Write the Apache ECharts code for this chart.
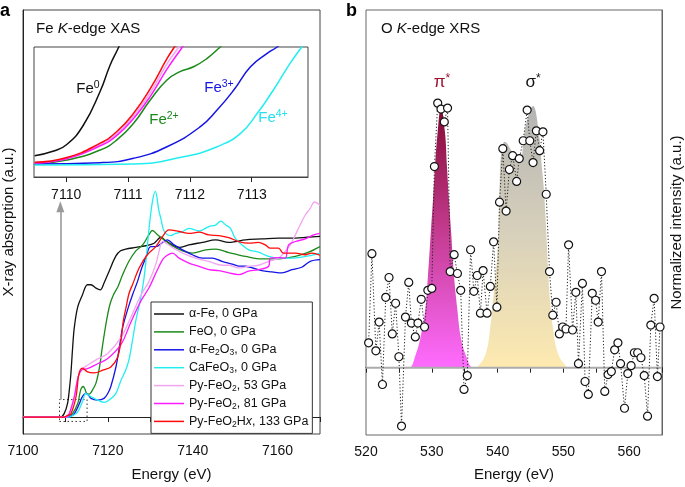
<!DOCTYPE html>
<html><head><meta charset="utf-8">
<script src="https://cdn.jsdelivr.net/npm/echarts@6/dist/echarts.min.js"></script>
<style>html,body{margin:0;padding:0;background:#fff}#c{width:685px;height:487px}</style>
</head><body><div id="c"></div>
<script>
const FONT = '"Liberation Sans", Arial, Helvetica, sans-serif';

// ---------- Panel a: Fe K-edge XAS (energy eV, normalized absorption) ----------
const legendNames = ['α-Fe, 0 GPa','FeO, 0 GPa','α-Fe2O3, 0 GPa','CaFeO3, 0 GPa','Py-FeO2, 53 GPa','Py-FeO2, 81 GPa','Py-FeO2Hx, 133 GPa'];
const legendRich = ['α-Fe, 0 GPa','FeO, 0 GPa','α-Fe{s|2}O{s|3}, 0 GPa','CaFeO{s|3}, 0 GPa','Py-FeO{s|2}, 53 GPa','Py-FeO{s|2}, 81 GPa','Py-FeO{s|2}H{i|x}, 133 GPa'];
const lineColors = ['#111111','#1b8a1b','#1414e6','#22eef0','#f2a6f2','#ff1aff','#ff0a0a'];

const xasAlphaFe = [[7100,0],[7108.8,0],[7109.7,0.02],[7110.5,0.08],[7111.0,0.18],[7111.3,0.26],[7111.7,0.41],[7112.1,0.53],[7112.9,0.65],[7114.0,0.72],[7115.2,0.78],[7116.0,0.78],[7117.2,0.76],[7118.2,0.75],[7119.1,0.79],[7120.3,0.86],[7121.9,0.95],[7123.0,0.98],[7124.2,0.99],[7126.6,1.0],[7128.9,1.01],[7130.9,1.025],[7132.5,1.06],[7133.6,1.04],[7135.2,1.015],[7136.8,1.0],[7139.1,1.015],[7142.3,1.03],[7145.4,1.045],[7148.5,1.03],[7150.1,1.035],[7152.4,1.045],[7156.3,1.05],[7160.2,1.055],[7164.2,1.055],[7167.0,1.06],[7170,1.065]];
const xasFeO = [[7100,0],[7110.1,0],[7111.0,0.01],[7111.7,0.022],[7112.9,0.08],[7113.6,0.16],[7114.2,0.18],[7114.6,0.165],[7115.0,0.14],[7115.6,0.135],[7116.4,0.16],[7117.2,0.2],[7118.0,0.29],[7118.8,0.43],[7119.7,0.57],[7120.5,0.665],[7121.3,0.72],[7122.4,0.77],[7123.5,0.84],[7125.0,0.92],[7126.6,0.98],[7128.2,1.015],[7129.7,1.075],[7130.5,1.1],[7131.7,1.075],[7133.2,1.045],[7134.8,1.015],[7137.6,0.98],[7139.9,0.967],[7143.1,0.986],[7145.4,0.99],[7148.5,0.97],[7150.1,0.96],[7152.4,0.947],[7156.3,0.932],[7160.2,0.933],[7164.2,0.947],[7167.3,0.972],[7170,1.005]];
const xasFe2O3 = [[7100,0],[7110.5,0],[7111.3,0.005],[7112.1,0.02],[7113.2,0.074],[7114.0,0.12],[7114.8,0.14],[7115.4,0.13],[7116.0,0.11],[7117.6,0.1],[7119.1,0.11],[7120.0,0.14],[7120.7,0.18],[7121.9,0.295],[7122.7,0.41],[7123.5,0.53],[7124.8,0.645],[7125.8,0.72],[7127.0,0.8],[7128.0,0.88],[7128.9,0.937],[7130.1,1.005],[7131.3,1.005],[7132.9,1.03],[7134.0,1.045],[7135.6,1.015],[7137.6,0.986],[7139.9,0.957],[7142.3,0.937],[7144.6,0.937],[7146.9,0.918],[7149.3,0.902],[7150.8,0.89],[7152.4,0.889],[7156.3,0.863],[7158.7,0.856],[7161.0,0.85],[7163.4,0.869],[7165.7,0.883],[7167.7,0.918],[7170,0.928]];
const xasCaFeO3 = [[7100,0],[7110.9,0],[7111.8,0.01],[7112.9,0.03],[7114.0,0.09],[7114.8,0.14],[7115.4,0.13],[7116.0,0.12],[7117.6,0.1],[7119.1,0.086],[7120.3,0.1],[7121.9,0.14],[7123.1,0.217],[7124.2,0.276],[7125.0,0.34],[7125.8,0.45],[7126.6,0.57],[7127.4,0.66],[7128.3,0.78],[7128.9,0.9],[7129.7,1.11],[7130.5,1.27],[7131.2,1.33],[7132.0,1.22],[7132.5,1.17],[7133.3,1.094],[7134.8,1.07],[7136.0,1.083],[7137.6,1.094],[7139.1,1.113],[7141.5,1.097],[7143.8,1.123],[7145.4,1.132],[7146.6,1.155],[7147.8,1.132],[7148.9,1.113],[7150.0,1.055],[7151.6,1.015],[7153.2,0.986],[7155.5,0.972],[7157.9,0.947],[7160.2,0.937],[7162.6,0.937],[7164.9,0.94],[7167.3,0.95],[7170,0.967]];
const xasFeO2at53 = [[7100,0],[7110.2,0],[7110.9,0.02],[7112.1,0.12],[7113.0,0.237],[7114.0,0.285],[7115.2,0.305],[7117.6,0.343],[7119.9,0.373],[7123.1,0.47],[7125.4,0.587],[7127.8,0.72],[7129.7,0.8],[7131.3,0.9],[7132.1,0.98],[7132.9,1.035],[7135.2,1.0],[7137.6,0.967],[7140.7,0.937],[7143.8,0.918],[7147.0,0.895],[7148.5,0.895],[7150.8,0.879],[7153.2,0.889],[7155.5,0.895],[7157.9,0.918],[7160.2,0.937],[7161.8,0.976],[7163.0,1.015],[7164.2,1.074],[7165.3,1.132],[7166.5,1.19],[7167.7,1.23],[7168.7,1.268],[7170,1.249]];
const xasFeO2at81 = [[7100,0],[7110.2,0],[7110.9,0.02],[7112.1,0.12],[7113.0,0.237],[7114.0,0.28],[7115.2,0.285],[7117.6,0.314],[7119.9,0.343],[7123.1,0.428],[7125.4,0.558],[7127.8,0.685],[7129.7,0.762],[7131.7,0.87],[7132.9,0.928],[7133.6,0.947],[7135.2,0.967],[7136.8,0.937],[7139.1,0.908],[7141.5,0.889],[7143.8,0.869],[7146.2,0.863],[7148.5,0.85],[7150.8,0.84],[7153.2,0.86],[7155.5,0.869],[7157.9,0.889],[7158.3,0.937],[7160.2,0.94],[7161.8,0.937],[7162.6,1.015],[7164.2,1.035],[7166.5,1.05],[7168.5,1.074],[7170,1.083]];
const xasFeO2Hx133 = [[7100,0],[7109.7,0],[7110.5,0.01],[7111.3,0.02],[7112.5,0.12],[7113.2,0.256],[7114.0,0.289],[7115.2,0.266],[7116.8,0.26],[7118.8,0.276],[7120.7,0.295],[7122.3,0.353],[7123.1,0.45],[7123.6,0.56],[7124.4,0.66],[7125.0,0.73],[7125.8,0.78],[7127.4,0.88],[7129.3,0.957],[7131.3,1.005],[7132.9,1.065],[7134.4,1.103],[7136.8,1.094],[7139.1,1.083],[7141.5,1.09],[7143.8,1.074],[7146.2,1.07],[7148.5,1.058],[7150.8,1.035],[7153.2,1.025],[7155.5,1.03],[7157.1,1.015],[7158.3,0.996],[7160.2,0.996],[7161.4,0.967],[7164.2,0.967],[7166.5,0.957],[7168.1,0.967],[7170,0.954]];

// inset (pre-edge zoom)
const insetAlphaFe = [[7109.49,0.164],[7109.8,0.2],[7110.01,0.25],[7110.28,0.4],[7110.55,0.66],[7110.71,0.86],[7110.85,1.0],[7110.95,1.12]];
const insetFeO = [[7109.49,0.1],[7110.01,0.13],[7110.55,0.208],[7110.82,0.285],[7111.09,0.413],[7111.36,0.592],[7111.63,0.746],[7111.84,0.81],[7112.06,0.848],[7112.28,0.913],[7112.49,1.0],[7112.6,1.05]];
const insetFe2O3 = [[7109.49,0.1],[7110.55,0.11],[7111.09,0.144],[7111.63,0.233],[7112.17,0.387],[7112.44,0.515],[7112.71,0.669],[7112.98,0.848],[7113.25,0.951],[7113.41,1.0],[7113.5,1.04]];
const insetCaFeO3 = [[7109.49,0.092],[7111.09,0.1],[7111.9,0.156],[7112.44,0.233],[7112.82,0.336],[7113.09,0.49],[7113.35,0.669],[7113.62,0.874],[7113.81,1.0],[7113.91,1.06]];
const insetFeO2at53 = [[7109.49,0.11],[7110.01,0.145],[7110.55,0.25],[7110.82,0.335],[7111.09,0.47],[7111.36,0.65],[7111.63,0.87],[7111.82,1.0],[7111.9,1.06]];
const insetFeO2at81 = [[7109.49,0.108],[7110.01,0.14],[7110.55,0.24],[7110.82,0.32],[7111.09,0.45],[7111.36,0.62],[7111.63,0.83],[7111.88,1.0],[7111.95,1.05]];
const insetFeO2Hx133 = [[7109.49,0.113],[7110.01,0.15],[7110.55,0.26],[7110.82,0.35],[7111.09,0.49],[7111.36,0.68],[7111.63,0.91],[7111.75,1.0],[7111.85,1.08]];
const insetTicks = [7110, 7111, 7112, 7113];

// ---------- Panel b: O K-edge XRS ----------
const xrsEnergy = [520.4,520.9,521.5,522.0,522.5,523.0,523.5,524.0,524.5,525.0,525.4,526.0,526.5,526.9,527.5,527.9,528.4,528.9,529.4,530.0,530.4,530.9,531.4,531.9,532.4,532.8,533.4,533.9,534.4,534.9,535.4,535.9,536.4,536.9,537.4,537.8,538.4,538.9,539.4,539.9,540.3,540.8,541.3,541.8,542.3,542.9,543.3,543.9,544.5,544.9,545.4,545.9,546.4,546.9,547.4,547.9,548.4,548.9,549.4,549.9,550.4,550.8,551.4,551.9,552.3,552.9,553.3,553.8,554.4,554.9,555.3,555.8,556.3,556.8,557.3,557.8,558.3,558.7,559.3,559.8,560.3,560.8,561.3,561.8,562.3,562.8,563.3,563.8,564.3,564.7];
const xrsIntensity = [0.25,1.15,0.17,0.46,-0.17,0.71,0.91,0.34,0.65,0.11,-0.59,0.51,0.86,0.45,0.31,0.45,0.69,0.41,0.78,0.80,2.03,2.67,2.61,2.48,2.62,0.97,1.14,0.95,0.78,-0.22,-0.08,1.19,0.77,0.93,0.55,0.98,0.55,0.82,1.27,0.61,1.67,2.21,1.58,2.00,2.14,1.88,2.11,2.29,2.60,2.29,2.07,2.39,2.19,2.38,1.75,0.97,0.53,0.66,0.34,0.41,0.39,1.24,0.38,0.76,0.04,0.85,-0.14,-0.27,0.75,0.68,0.46,0.97,-0.24,-0.07,-0.04,0.18,0.25,0.04,-0.41,-0.06,0.02,0.15,0.15,0.10,-0.08,-0.49,0.43,0.70,-0.09,0.41];
const piStarProfile = [[526.0,0],[526.6,0.0],[527.6,0.14],[528.3,0.31],[529.0,0.58],[529.4,0.91],[529.9,1.41],[530.2,1.71],[530.5,2.04],[530.9,2.38],[531.4,2.63],[532.0,2.38],[532.3,2.04],[532.6,1.71],[532.9,1.41],[533.4,0.91],[533.9,0.58],[534.4,0.31],[535.1,0.14],[536.2,0.0],[536.6,0]];
const sigmaStarProfile = [[536.5,0],[537.0,0.01],[538.2,0.14],[538.9,0.41],[539.4,0.74],[539.9,1.08],[540.1,1.3],[540.3,1.8],[540.6,2.2],[541.1,2.28],[542.2,2.18],[543.3,2.06],[544.2,2.41],[545.0,2.61],[545.4,2.64],[546.2,2.41],[546.8,1.98],[547.1,1.75],[547.5,1.24],[547.7,0.97],[547.9,0.74],[548.4,0.41],[549.2,0.14],[550.5,0.01],[551.0,0]];

const mainData = [xasAlphaFe, xasFeO, xasFe2O3, xasCaFeO3, xasFeO2at53, xasFeO2at81, xasFeO2Hx133];
const insetData = [insetAlphaFe, insetFeO, insetFe2O3, insetCaFeO3, insetFeO2at53, insetFeO2at81, insetFeO2Hx133];

const chart = echarts.init(document.getElementById('c'), null, {renderer:'canvas', width:685, height:487});

const series = [];
mainData.forEach((d, i) => {
  series.push({type:'line', name: legendNames[i], data: d, xAxisIndex:0, yAxisIndex:0,
    symbol:'none', smooth:0.35, lineStyle:{color: lineColors[i], width:1.3}, itemStyle:{color: lineColors[i]}, z: 2 + i});
});
insetData.forEach((d, i) => {
  series.push({type:'line', name: 'inset ' + legendNames[i], data: d, xAxisIndex:1, yAxisIndex:1,
    symbol:'none', smooth:0.5, lineStyle:{color: lineColors[i], width:1.5}, itemStyle:{color: lineColors[i]}, z: 2 + i});
});
// pre-edge box and arrow (annotations)
series.push({type:'line', name:'annot', data:[[7108.8,0.103]], xAxisIndex:0, yAxisIndex:0, symbol:'none', lineStyle:{opacity:0}, z:10,
  markArea:{silent:true, itemStyle:{color:'rgba(0,0,0,0)', borderColor:'#333', borderWidth:1, borderType:[1.5,2.5]},
    data:[[{coord:[7108.6,-0.026]},{coord:[7115.1,0.103]}]]},
  markLine:{silent:true, symbol:['none','triangle'], symbolSize:[8,11], label:{show:false},
    lineStyle:{color:'#9a9a9a', width:1.6, type:'solid'},
    data:[[{coord:[7108.8,0.103]},{coord:[7108.8,1.24]}]]}
});
// panel b fills
series.push({type:'line', name:'pi*', data: piStarProfile, xAxisIndex:2, yAxisIndex:2, symbol:'none', smooth:0.4,
  lineStyle:{width:0}, z:1,
  areaStyle:{opacity:1, color:{type:'linear', x:0, y:0, x2:0, y2:1, colorStops:[{offset:0,color:'#840a34'},{offset:0.45,color:'#c0398a'},{offset:1,color:'#ff6cff'}]}}});
series.push({type:'line', name:'sigma*', data: sigmaStarProfile, xAxisIndex:2, yAxisIndex:2, symbol:'none', smooth:0.4,
  lineStyle:{width:0}, z:1,
  areaStyle:{opacity:1, color:{type:'linear', x:0, y:0, x2:0, y2:1, colorStops:[{offset:0,color:'#b4b4b4'},{offset:0.5,color:'#d8d1bb'},{offset:1,color:'#feeab0'}]}}});
series.push({type:'line', name:'baseline', data:[[520,0],[565,0]], xAxisIndex:2, yAxisIndex:2, symbol:'none',
  lineStyle:{color:'#ababab', width:2}, z:2});
series.push({type:'line', name:'XRS', data: xrsEnergy.map((e, i) => [e, xrsIntensity[i]]), xAxisIndex:2, yAxisIndex:2,
  symbol:'circle', symbolSize:8, showSymbol:true, clip:false,
  lineStyle:{color:'#222', width:1, type:[1.2,2]}, itemStyle:{color:'#fff', borderColor:'#111', borderWidth:1.2}, z:5});

const axisText = {fontSize:14, color:'#111', fontFamily:FONT};
const nameText = {fontSize:15, color:'#111', fontFamily:FONT};

const option = {
  animation:false,
  backgroundColor:'#fff',
  textStyle:{fontFamily:FONT},
  grid:[
    {left:22, top:10, width:298, height:428, show:true, borderColor:'#444', borderWidth:1, containLabel:false},
    {left:34, top:47, width:274, height:130, show:true, borderColor:'#444', borderWidth:1, containLabel:false},
    {left:366, top:10, width:297, height:429, show:true, borderColor:'#666', borderWidth:1, containLabel:false}
  ],
  xAxis:[
    {gridIndex:0, type:'value', min:7100, max:7170, interval:10,
      axisLine:{lineStyle:{color:'#222', width:1}}, axisTick:{length:5, lineStyle:{color:'#222'}},
      axisLabel:Object.assign({margin:10, formatter: v => (v % 20 === 0 ? String(v) : '')}, axisText),
      splitLine:{show:false}, name:'Energy (eV)', nameLocation:'middle', nameGap:33, nameTextStyle:nameText},
    {gridIndex:1, type:'value', min:7109.48, max:7113.91,
      axisLine:{lineStyle:{color:'#444'}}, axisTick:{length:5, customValues:insetTicks, lineStyle:{color:'#222'}},
      axisLabel:Object.assign({margin:11, customValues:insetTicks, formatter: v => String(v)}, axisText),
      splitLine:{show:false}},
    {gridIndex:2, type:'value', min:520, max:565, interval:5,
      axisLine:{lineStyle:{color:'#222', width:1}}, axisTick:{length:5, lineStyle:{color:'#222'}},
      axisLabel:Object.assign({margin:10, formatter: v => (v % 10 === 0 ? String(v) : '')}, axisText),
      splitLine:{show:false}, name:'Energy (eV)', nameLocation:'middle', nameGap:32, nameTextStyle:nameText}
  ],
  yAxis:[
    {gridIndex:0, type:'value', min:-0.1, max:2.4, axisLine:{show:true, lineStyle:{color:'#222'}}, axisTick:{show:false},
      axisLabel:{show:false}, splitLine:{show:false},
      name:'X-ray absorption (a.u.)', nameLocation:'middle', nameGap:7, nameTextStyle:nameText},
    {gridIndex:1, type:'value', min:0, max:1, axisLine:{show:false}, axisTick:{show:false}, axisLabel:{show:false}, splitLine:{show:false}},
    {gridIndex:2, type:'value', min:-0.68, max:3.61, position:'right', axisLine:{show:true, lineStyle:{color:'#666'}}, axisTick:{show:false},
      axisLabel:{show:false}, splitLine:{show:false},
      name:'Normalized intensity (a.u.)', nameLocation:'middle', nameGap:7, nameRotate:90, nameTextStyle:nameText}
  ],
  legend:{
    data: legendNames, orient:'vertical', left:151, top:302, padding:[4.5,4,4.5,3],
    icon:'path://M0,0 L30,0 L30,1.5 L0,1.5 Z', symbolKeepAspect:false,
    itemWidth:30, itemHeight:1.5, itemGap:2.9, borderColor:'#333', borderWidth:1, backgroundColor:'#fff',
    formatter: name => legendRich[legendNames.indexOf(name)],
    textStyle:{fontSize:12.5, color:'#111', fontFamily:FONT, lineHeight:15,
      rich:{s:{fontSize:8.5, lineHeight:8, verticalAlign:'bottom', color:'#111', fontFamily:FONT},
            i:{fontSize:12.5, fontStyle:'italic', lineHeight:15, color:'#111', fontFamily:FONT}}}
  },
  graphic:[
    {type:'text', left:0, top:2, style:{text:'a', font:'bold 18px ' + FONT, fill:'#000'}},
    {type:'text', left:346, top:2, style:{text:'b', font:'bold 18px ' + FONT, fill:'#000'}},
    {type:'text', x:36, y:29, style:{text:'{n|Fe }{k|K}{n|-edge XAS}', verticalAlign:'middle',
      rich:{n:{fontSize:15, fontFamily:FONT, fill:'#111'}, k:{fontSize:15, fontFamily:FONT, fontStyle:'italic', fill:'#111'}}}},
    {type:'text', x:381, y:29, style:{text:'{n|O }{k|K}{n|-edge XRS}', verticalAlign:'middle',
      rich:{n:{fontSize:15, fontFamily:FONT, fill:'#111'}, k:{fontSize:15, fontFamily:FONT, fontStyle:'italic', fill:'#111'}}}},
    {type:'text', x:442, y:82, style:{text:'{b|π}{s|*}', align:'center', verticalAlign:'middle',
      rich:{b:{fontSize:17, lineHeight:18, fontFamily:FONT, fill:'#9c1030'}, s:{fontSize:12, lineHeight:10, verticalAlign:'top', fontFamily:FONT, fill:'#9c1030'}}}},
    {type:'text', x:533, y:82, style:{text:'{b|σ}{s|*}', align:'center', verticalAlign:'middle',
      rich:{b:{fontSize:17, lineHeight:18, fontFamily:FONT, fill:'#111'}, s:{fontSize:12, lineHeight:10, verticalAlign:'top', fontFamily:FONT, fill:'#111'}}}},
    {type:'text', x:88, y:89, style:{text:'{b|Fe}{s|0}', align:'center', verticalAlign:'middle',
      rich:{b:{fontSize:15, lineHeight:18, fontFamily:FONT, fill:'#111'}, s:{fontSize:10.5, lineHeight:10, verticalAlign:'top', fontFamily:FONT, fill:'#111'}}}},
    {type:'text', x:164, y:120, style:{text:'{b|Fe}{s|2+}', align:'center', verticalAlign:'middle',
      rich:{b:{fontSize:15, lineHeight:18, fontFamily:FONT, fill:'#1b8a1b'}, s:{fontSize:10.5, lineHeight:10, verticalAlign:'top', fontFamily:FONT, fill:'#1b8a1b'}}}},
    {type:'text', x:219, y:88, style:{text:'{b|Fe}{s|3+}', align:'center', verticalAlign:'middle',
      rich:{b:{fontSize:15, lineHeight:18, fontFamily:FONT, fill:'#1414e6'}, s:{fontSize:10.5, lineHeight:10, verticalAlign:'top', fontFamily:FONT, fill:'#1414e6'}}}},
    {type:'text', x:273, y:118, style:{text:'{b|Fe}{s|4+}', align:'center', verticalAlign:'middle',
      rich:{b:{fontSize:15, lineHeight:18, fontFamily:FONT, fill:'#22e0ee'}, s:{fontSize:10.5, lineHeight:10, verticalAlign:'top', fontFamily:FONT, fill:'#22e0ee'}}}}
  ],
  series: series
};
chart.setOption(option);
</script>
</body></html>
